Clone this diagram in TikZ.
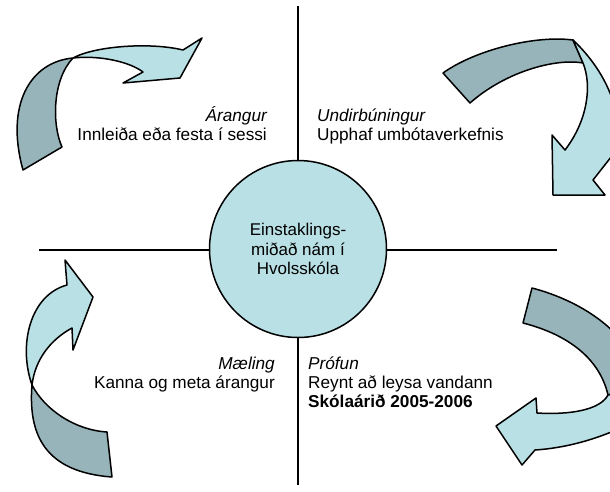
\documentclass[tikz,border=0pt]{standalone}
\usepackage{fontspec}
\setmainfont{Liberation Sans}
\definecolor{lightband}{RGB}{185,224,228}
\definecolor{darkband}{RGB}{150,180,185}
\begin{document}
\begin{tikzpicture}[x=1pt,y=-1pt,
  band/.style={draw=black, line width=1.5pt, line join=round},
  lightpart/.style={band, fill=lightband},
  darkpart/.style={band, fill=darkband},
  axis/.style={draw=black, line width=1.4pt},
  hub/.style={circle, draw=black, line width=1.5pt, fill=lightband, minimum size=177pt, inner sep=0pt, align=center, font=\fontsize{17}{19.5}\selectfont},
  lbl/.style={inner sep=0pt, font=\fontsize{17.2}{19.5}\selectfont}]
\path[use as bounding box] (0,0) rectangle (610,491);
\clip (0,0) rectangle (610,491);
% axes
\coordinate (vt) at (298,6);
\coordinate (vb) at (298,485);
\coordinate (hl) at (39,250);
\coordinate (hr) at (557,250);
\draw[axis] (vt) -- (vb);
\draw[axis] (hl) -- (hr);
% centre
\node[hub] (c) at (298,249) {Einstaklings-\\miðað nám í\\Hvolsskóla};
% top-left arrow
\path[darkpart] (73,58) .. controls (30,62) and (5,105) .. (23,170) -- (62,147) .. controls (52,125) and (52,80) .. (73,58) -- cycle;
\path[lightpart] (73,58) .. controls (95,46) and (150,42) .. (183,50) -- (202,38) -- (180,78) -- (123,83) -- (143,72) .. controls (130,62) and (100,55) .. (73,58) -- cycle;
% top-right arrow
\path[darkpart] (443,73) .. controls (475,50) and (535,35) .. (573,40) -- (583,63) .. controls (555,58) and (505,72) .. (470,103) -- cycle;
\path[lightpart] (573,40) .. controls (610,75) and (625,120) .. (615,152) -- (593,180) -- (605,195) -- (553,195) -- (552,135) -- (565,150) .. controls (588,120) and (592,85) .. (583,63) -- cycle;
% bottom-right arrow
\path[darkpart] (532,288) .. controls (570,298) and (605,318) .. (625,345) -- (625,390) -- (608,395) .. controls (600,360) and (570,335) .. (523,323) -- cycle;
\path[lightpart] (608,395) .. controls (600,410) and (570,415) .. (537,413) -- (536,398) -- (496,426) -- (522,465) -- (535,450) .. controls (565,448) and (595,440) .. (625,426) -- (625,392) -- cycle;
% bottom-left arrow
\path[darkpart] (32,385) .. controls (28,435) and (45,472) .. (112,477) -- (107,432) .. controls (75,430) and (45,410) .. (32,385) -- cycle;
\path[lightpart] (32,385) .. controls (18,345) and (30,295) .. (67,285) -- (65,260) -- (93,297) -- (73,350) -- (72,328) .. controls (50,340) and (35,360) .. (32,385) -- cycle;
% labels
\node[lbl, anchor=base east] (tl1) at (267,121) {\itshape Árangur};
\node[lbl, anchor=base east] (tl2) at (267,140) {Innleiða eða festa í sessi};
\node[lbl, anchor=base west] (tr1) at (317,121) {\itshape Undirbúningur};
\node[lbl, anchor=base west] (tr2) at (317,140) {Upphaf umbótaverkefnis};
\node[lbl, anchor=base east] (bl1) at (275,369) {\itshape Mæling};
\node[lbl, anchor=base east] (bl2) at (275,388.5) {Kanna og meta árangur};
\node[lbl, anchor=base west] (br1) at (308,369) {\itshape Prófun};
\node[lbl, anchor=base west] (br2) at (308,388.5) {Reynt að leysa vandann};
\node[lbl, anchor=base west] (br3) at (308,407.5) {\bfseries Skólaárið 2005-2006};
\end{tikzpicture}
\end{document}
